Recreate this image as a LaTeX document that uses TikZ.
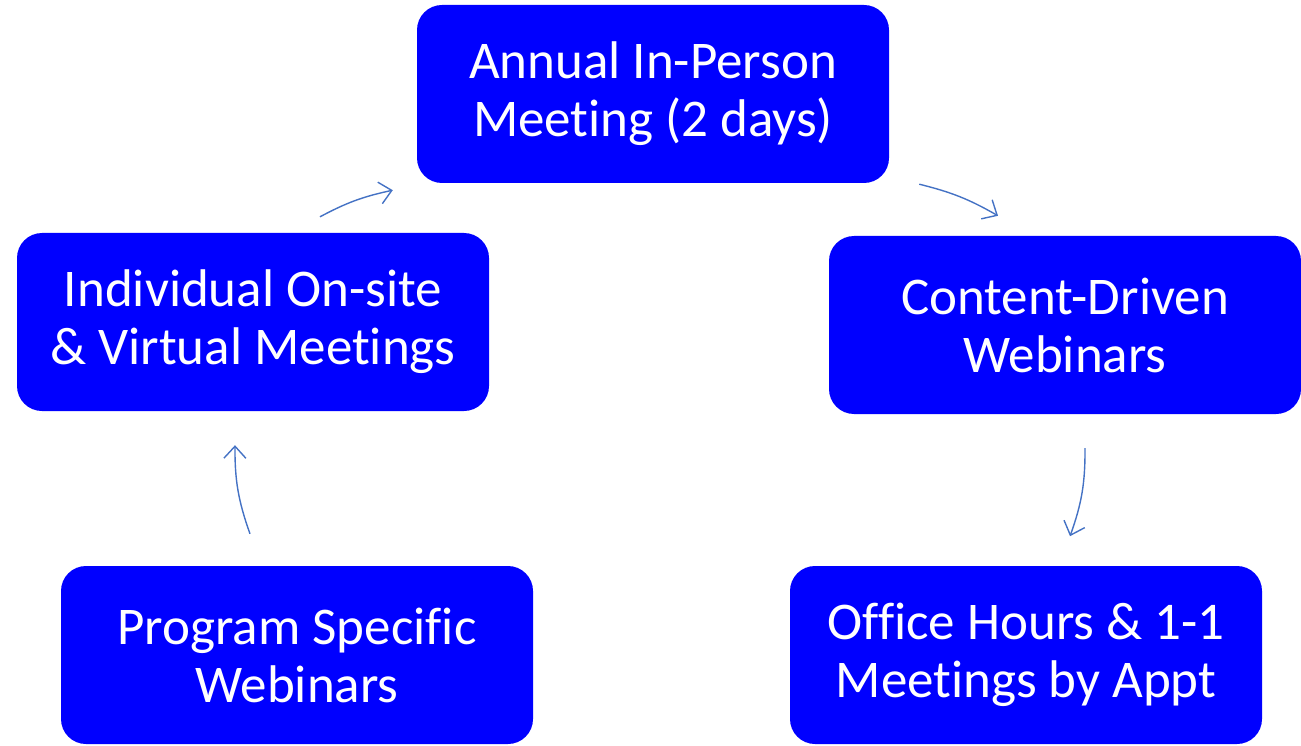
\documentclass[tikz,border=0pt]{standalone}
\usepackage{fontspec}
\setmainfont{Carlito}[Ligatures={NoCommon}]
\usetikzlibrary{arrows.meta}

\definecolor{boxblue}{RGB}{0,0,255}
\definecolor{linkblue}{RGB}{68,114,196}

\tikzset{
  stagebox/.style={draw=none, fill=boxblue, rounded corners=25pt, text=white,
    minimum width=472pt, minimum height=178pt, align=center,
    font=\fontsize{53}{58}\selectfont},
  flow/.style={draw=linkblue, line width=1.4pt, -{Straight Barb[length=12pt,width=22pt]}}
}

\begin{document}
\begin{tikzpicture}[x=1pt, y=-1pt]
        \useasboundingbox (0,0) rectangle (1301,746);
        % stages
        \node[stagebox] (annual) at (653,94) {Annual In-Person\\Meeting (2 days)};
        \node[stagebox] (content) at (1065,325) {Content-Driven\\Webinars};
        \node[stagebox] (office) at (1026,655) {Office Hours \& 1-1\\Meetings by Appt};
        \node[stagebox] (program) at (297,655) {Program Specific\\Webinars};
        \node[stagebox] (individual) at (253,322) {Individual On-site\\\& Virtual Meetings};
        % cycle
        \draw[flow] ([xshift=30pt,yshift=-1pt]annual.south east) to[bend left=8] ([xshift=-67pt,yshift=20pt]content.north);
        \draw[flow] ([xshift=20pt,yshift=-34pt]content.south) to[bend left=10] ([xshift=5pt,yshift=-122pt]content.south);
        \draw[flow] ([xshift=-47pt,yshift=32pt]program.north) to[bend left=10] ([xshift=-18pt,yshift=-34pt]individual.south);
        \draw[flow] ([xshift=67pt,yshift=16pt]individual.north) to[bend left=8] ([xshift=-24pt,yshift=-7pt]annual.south west);
\end{tikzpicture}
\end{document}
